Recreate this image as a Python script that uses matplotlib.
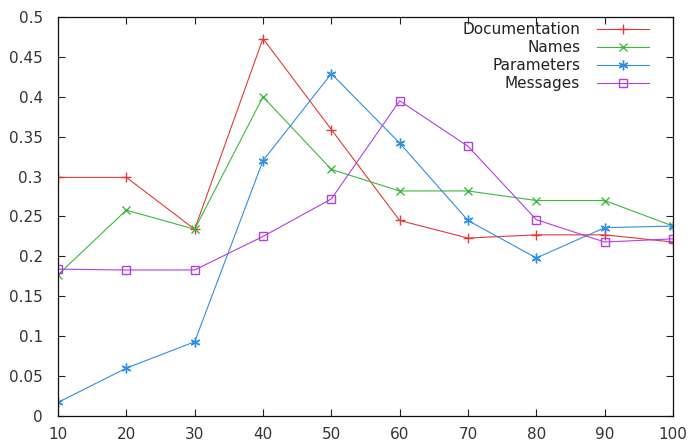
import matplotlib
matplotlib.use("Agg")
import matplotlib.pyplot as plt
from matplotlib.ticker import FuncFormatter, MultipleLocator

x = [10, 20, 30, 40, 50, 60, 70, 80, 90, 100]
documentation = [0.299, 0.299, 0.234, 0.473, 0.359, 0.245, 0.223, 0.227, 0.227, 0.218]
names = [0.177, 0.258, 0.234, 0.400, 0.309, 0.282, 0.282, 0.270, 0.270, 0.238]
parameters = [0.017, 0.060, 0.093, 0.320, 0.429, 0.342, 0.245, 0.198, 0.236, 0.238]
messages = [0.184, 0.183, 0.183, 0.225, 0.272, 0.395, 0.338, 0.246, 0.218, 0.222]

fig = plt.figure(figsize=(6.88, 4.41), dpi=100)
ax = fig.add_axes([58/688, 25/441, 615/688, 399/441])

lw = 0.8
ax.plot(x, documentation, color="#e03a3a", marker="+", ms=7, mew=1.0, lw=lw, label="Documentation")
ax.plot(x, names, color="#3cb83c", marker="x", ms=6, mew=1.0, lw=lw, label="Names")
ax.plot(x, parameters, color="#2f8fe0", marker=(6, 2, 0), ms=7, mew=1.0, lw=lw, label="Parameters")
ax.plot(x, messages, color="#b43ee0", marker="s", mfc="none", ms=6, mew=1.0, lw=lw, label="Messages")

ax.set_xlim(10, 100)
ax.set_ylim(0, 0.5)
ax.xaxis.set_major_locator(MultipleLocator(10))
ax.yaxis.set_major_locator(MultipleLocator(0.05))
ax.yaxis.set_major_formatter(FuncFormatter(lambda v, p: "%g" % round(v, 2)))
ax.tick_params(direction="in", length=5, width=0.8, top=True, right=True,
               labelsize=11, colors="#222222", labelcolor="#333333")
ax.tick_params(axis="x", pad=8)
ax.tick_params(axis="y", pad=11)
for s in ax.spines.values():
    s.set_linewidth(0.9)
    s.set_color("#111111")

leg = ax.legend(loc="upper right", bbox_to_anchor=(649/688, 419/441),
                bbox_transform=fig.transFigure, frameon=False,
                markerfirst=False, handlelength=3.4, labelspacing=0.2,
                fontsize=11, borderaxespad=0, borderpad=0, handletextpad=1.1)
for t in leg.get_texts():
    t.set_color("#222222")

fig.savefig("out.png", dpi=100)
